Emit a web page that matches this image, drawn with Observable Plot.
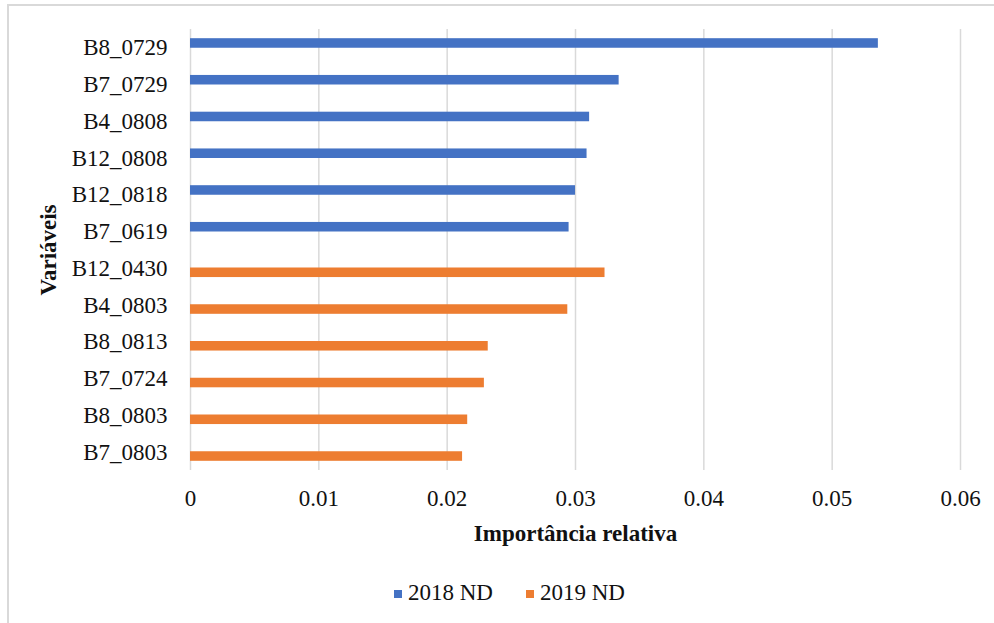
<!DOCTYPE html>
<html>
<head>
<meta charset="utf-8">
<script src="https://cdn.jsdelivr.net/npm/d3@7"></script>
<script src="https://cdn.jsdelivr.net/npm/@observablehq/plot@0.6"></script>
<style>
  html, body { margin: 0; padding: 0; background: #fff; }
  body { width: 994px; height: 623px; position: relative; overflow: hidden; font-family: 'Liberation Serif', 'Times New Roman', serif; }
  #frame { position: absolute; left: 7px; top: 4px; width: 1000px; height: 700px; border-top: 2px solid #d9d9d9; border-left: 2px solid #d9d9d9; box-sizing: border-box; }
  #chart { position: absolute; left: 0; top: 0; }
  #chart svg, #chart svg text { font-family: 'Liberation Serif', 'Times New Roman', serif !important; }
  #legend { position: absolute; top: 578px; left: 0; width: 994px; height: 30px; line-height: 30px; font-size: 23px; color: #111; }
  .sw { display: inline-block; width: 8px; height: 8px; margin-right: 6px; vertical-align: middle; position: relative; top: -1px; }
  .item { position: absolute; white-space: nowrap; }
</style>
</head>
<body>
<div id="frame"></div>
<div id="chart"></div>
<div id="legend"></div>
<script>
const categories = ["B8_0729","B7_0729","B4_0808","B12_0808","B12_0818","B7_0619",
                    "B12_0430","B4_0803","B8_0813","B7_0724","B8_0803","B7_0803"];
const series2018Names = ["B8_0729","B7_0729","B4_0808","B12_0808","B12_0818","B7_0619"];
const series2018Values = [0.0536, 0.0334, 0.0311, 0.0309, 0.0300, 0.0295];
const series2019Names = ["B12_0430","B4_0803","B8_0813","B7_0724","B8_0803","B7_0803"];
const series2019Values = [0.0323, 0.0294, 0.0232, 0.0229, 0.0216, 0.0212];
const xTicks = [0, 0.01, 0.02, 0.03, 0.04, 0.05, 0.06];
const seriesLabels = ["2018 ND", "2019 ND"];
const colors = ["#4472C4", "#ED7D31"];

const d2018 = series2018Names.map((n, i) => ({name: n, value: series2018Values[i]}));
const d2019 = series2019Names.map((n, i) => ({name: n, value: series2019Values[i]}));
const fmt = d => d === 0 ? "0" : d3.format(".2f")(d);

const chart = Plot.plot({
  width: 994,
  height: 560,
  marginLeft: 190,
  marginRight: 34,
  marginTop: 29,
  marginBottom: 90,
  style: {fontFamily: "'Liberation Serif', 'Times New Roman', serif", fontSize: "23px", color: "#111", background: "transparent"},
  x: {domain: [0, 0.06], ticks: xTicks, tickFormat: fmt, label: null, round: false},
  y: {domain: categories, padding: 0, round: false, label: null},
  marks: [
    Plot.gridX(xTicks, {stroke: "#d9d9d9", strokeOpacity: 1, strokeWidth: 1.5}),
    Plot.barX(d2018, {x: "value", y: "name", fill: colors[0], insetTop: 9.2, insetBottom: 18}),
    Plot.barX(d2019, {x: "value", y: "name", fill: colors[1], insetTop: 18, insetBottom: 9.2}),
    Plot.axisX({ticks: xTicks, tickSize: 0, tickPadding: 19, tickFormat: fmt, label: null, fontSize: 23}),
    Plot.axisY({tickSize: 0, tickPadding: 23, label: null, fontSize: 23}),
    Plot.text(["Importância relativa"], {frameAnchor: "bottom", dy: 63, textAnchor: "middle", lineAnchor: "middle", fontWeight: "bold", fontSize: 23, fill: "#111"}),
    Plot.text(["Variáveis"], {frameAnchor: "left", dx: -142, rotate: -90, textAnchor: "middle", lineAnchor: "middle", fontWeight: "bold", fontSize: 23, fill: "#111"})
  ]
});
document.getElementById("chart").appendChild(chart);

const legend = document.getElementById("legend");
const lefts = [394, 526];
seriesLabels.forEach((lab, i) => {
  const it = document.createElement("span");
  it.className = "item";
  it.style.left = lefts[i] + "px";
  const sw = document.createElement("span");
  sw.className = "sw";
  sw.style.background = colors[i];
  it.appendChild(sw);
  it.appendChild(document.createTextNode(lab));
  legend.appendChild(it);
});
</script>
</body>
</html>
